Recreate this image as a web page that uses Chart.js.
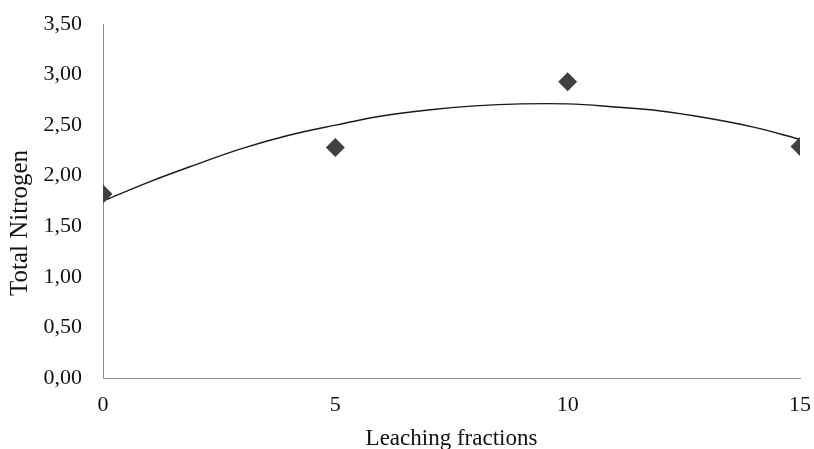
<!DOCTYPE html>
<html>
<head>
<meta charset="utf-8">
<script src="https://cdn.jsdelivr.net/npm/chart.js@4"></script>
<style>
  html, body { margin: 0; padding: 0; background: #ffffff; }
  #wrap { width: 814px; height: 449px; position: relative; }
</style>
</head>
<body>
<div id="wrap"><canvas id="c" width="814" height="449"></canvas></div>
<script>
// Observed data points
const leachingFractions = [0, 5, 10, 15];
const totalNitrogen = [1.82, 2.28, 2.93, 2.29];

// Trendline values
const trendX = [0, 1, 2, 3, 4, 5, 6, 7, 8, 9, 10, 11, 12, 13, 14, 15];
const trendY = [1.75, 1.94, 2.11, 2.27, 2.40, 2.50, 2.59, 2.65, 2.69, 2.71, 2.71, 2.68, 2.64, 2.57, 2.48, 2.36];

// Tick settings
const xTicks = [0, 5, 10, 15];
const yTicks = [0, 0.5, 1, 1.5, 2, 2.5, 3, 3.5];

const xTitle = 'Leaching fractions';
const yTitle = 'Total Nitrogen';

const FONT = '"Liberation Serif", "Times New Roman", serif';

const pointData = leachingFractions.map((x, i) => ({ x: x, y: totalNitrogen[i] }));
const trendData = trendX.map((x, i) => ({ x: x, y: trendY[i] }));

// Draws the vertical axis title slightly below the axis centre, as in the reference
const yTitlePlugin = {
  id: 'yTitlePlugin',
  afterDraw(chart) {
    const ctx = chart.ctx;
    ctx.save();
    ctx.translate(20, 223);
    ctx.rotate(-Math.PI / 2);
    ctx.font = '25px ' + FONT;
    ctx.fillStyle = '#111';
    ctx.textAlign = 'center';
    ctx.textBaseline = 'middle';
    ctx.fillText(yTitle, 0, 0);
    ctx.restore();
  }
};

new Chart(document.getElementById('c'), {
  type: 'scatter',
  data: {
    datasets: [
      {
        label: 'Trend',
        data: trendData,
        showLine: true,
        borderColor: '#1a1a1a',
        borderWidth: 1.4,
        pointRadius: 0,
        tension: 0.4,
        fill: false,
        order: 2
      },
      {
        label: yTitle,
        data: pointData,
        showLine: false,
        pointStyle: 'rectRot',
        pointRadius: 9.5,
        pointBackgroundColor: '#404040',
        pointBorderColor: '#404040',
        pointBorderWidth: 0,
        order: 1
      }
    ]
  },
  options: {
    responsive: false,
    animation: false,
    layout: { padding: { left: 0, right: 14, top: 24, bottom: 0 } },
    plugins: { legend: { display: false }, tooltip: { enabled: false } },
    scales: {
      x: {
        type: 'linear',
        min: xTicks[0],
        max: xTicks[xTicks.length - 1],
        afterBuildTicks: (s) => { s.ticks = xTicks.map(v => ({ value: v })); },
        afterFit: (s) => { s.height = 71; s.paddingLeft = 0; s.paddingRight = 0; },
        grid: { display: false, drawTicks: false },
        border: { display: true, color: '#8c8c8c', width: 1 },
        ticks: {
          color: '#111',
          font: { family: FONT, size: 22 },
          padding: 14,
          maxRotation: 0
        },
        title: {
          display: true,
          text: xTitle,
          color: '#111',
          font: { family: FONT, size: 23, lineHeight: '21px' },
          padding: { top: 0, bottom: 0 }
        }
      },
      y: {
        type: 'linear',
        min: yTicks[0],
        max: yTicks[yTicks.length - 1],
        afterBuildTicks: (s) => { s.ticks = yTicks.map(v => ({ value: v })); },
        afterFit: (s) => { s.width = 103; s.paddingTop = 0; s.paddingBottom = 0; },
        grid: { display: false, drawTicks: false },
        border: { display: true, color: '#8c8c8c', width: 1 },
        ticks: {
          color: '#111',
          font: { family: FONT, size: 22 },
          padding: 21,
          callback: (v) => Number(v).toFixed(2).replace('.', ',')
        },
        title: { display: false }
      }
    }
  },
  plugins: [yTitlePlugin]
});
</script>
</body>
</html>
